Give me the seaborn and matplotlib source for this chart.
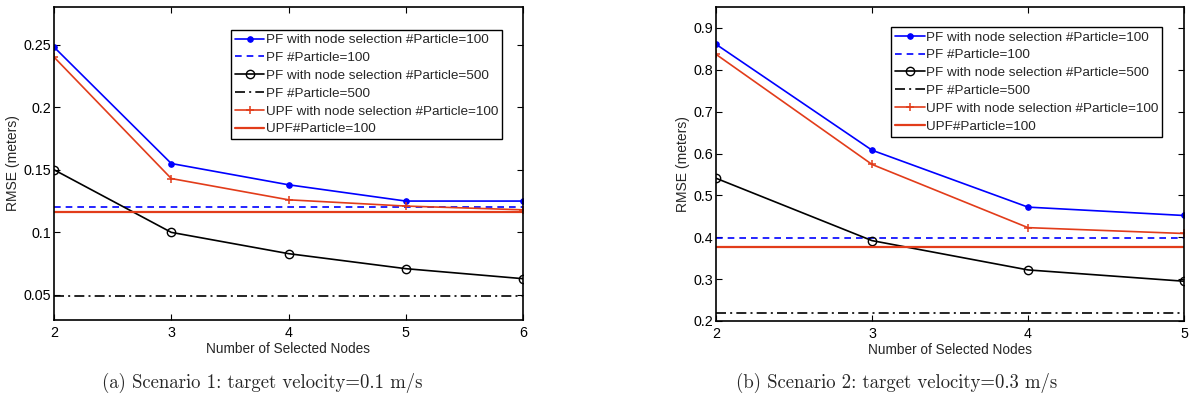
import numpy as np
import pandas as pd
import matplotlib
matplotlib.use("Agg")
import matplotlib.pyplot as plt
import seaborn as sns

# ---------------- data ----------------
nodes_a = [2, 3, 4, 5, 6]
pf_sel100_a = [0.248, 0.155, 0.138, 0.125, 0.125]
pf100_a = 0.120
pf_sel500_a = [0.150, 0.100, 0.083, 0.071, 0.063]
pf500_a = 0.049
upf_sel100_a = [0.240, 0.143, 0.126, 0.121, 0.118]
upf100_a = 0.1165

nodes_b = [2, 3, 4, 5]
pf_sel100_b = [0.861, 0.608, 0.472, 0.452]
pf100_b = 0.399
pf_sel500_b = [0.541, 0.392, 0.322, 0.295]
pf500_b = 0.220
upf_sel100_b = [0.837, 0.574, 0.423, 0.409]
upf100_b = 0.377

labels = ["PF with node selection #Particle=100",
          "PF #Particle=100",
          "PF with node selection #Particle=500",
          "PF #Particle=500",
          "UPF with node selection #Particle=100",
          "UPF#Particle=100"]

yticks_a = [0.05, 0.1, 0.15, 0.2, 0.25]
ytick_labels_a = ["0.05", "0.1", "0.15", "0.2", "0.25"]
yticks_b = [0.2, 0.3, 0.4, 0.5, 0.6, 0.7, 0.8, 0.9]
ytick_labels_b = ["0.2", "0.3", "0.4", "0.5", "0.6", "0.7", "0.8", "0.9"]

caption_a = "(a) Scenario 1: target velocity=0.1 m/s"
caption_b = "(b) Scenario 2: target velocity=0.3 m/s"
xlabel = "Number of Selected Nodes"
ylabel = "RMSE (meters)"

# ---------------- style ----------------
sns.set_theme(style="ticks")
plt.rcParams.update({
    "font.family": ["Liberation Sans", "DejaVu Sans"],
    "xtick.direction": "in",
    "ytick.direction": "in",
    "xtick.top": True,
    "ytick.right": True,
    "xtick.major.size": 4,
    "ytick.major.size": 4,
    "xtick.major.width": 0.8,
    "ytick.major.width": 0.8,
    "axes.linewidth": 1.2,
    "axes.edgecolor": "black",
})

BLUE = "#0000ff"
BLACK = "#000000"
RED = "#e23c1a"

fig = plt.figure(figsize=(11.9, 4.03), dpi=100)
ax_a = fig.add_axes([54 / 1190, 1 - 320 / 403, (523 - 54) / 1190, (320 - 7) / 403])
ax_b = fig.add_axes([716 / 1190, 1 - 321 / 403, (1184 - 716) / 1190, (321 - 7) / 403])


def draw(ax, nodes, sel100, base100, sel500, base500, usel100, ubase100):
    n = len(nodes)
    df = pd.DataFrame({
        "x": nodes,
        "sel100": sel100,
        "base100": np.full(n, base100),
        "sel500": sel500,
        "base500": np.full(n, base500),
        "usel100": usel100,
        "ubase100": np.full(n, ubase100),
    })
    lw = 1.2
    sns.lineplot(data=df, x="x", y="sel100", ax=ax, color=BLUE, lw=lw,
                 marker="o", markersize=4, markeredgecolor=BLUE,
                 markerfacecolor=BLUE, label=labels[0])
    sns.lineplot(data=df, x="x", y="base100", ax=ax, color=BLUE, lw=lw,
                 linestyle=(0, (4, 3)), label=labels[1])
    sns.lineplot(data=df, x="x", y="sel500", ax=ax, color=BLACK, lw=lw,
                 marker="o", markersize=6, markeredgecolor=BLACK,
                 markerfacecolor="none", markeredgewidth=1.0, label=labels[2])
    sns.lineplot(data=df, x="x", y="base500", ax=ax, color=BLACK, lw=lw,
                 linestyle=(0, (6, 2.5, 1.2, 2.5)), label=labels[3])
    sns.lineplot(data=df, x="x", y="usel100", ax=ax, color=RED, lw=lw,
                 marker="+", markersize=5.5, markeredgecolor=RED,
                 markeredgewidth=1.1, label=labels[4])
    sns.lineplot(data=df, x="x", y="ubase100", ax=ax, color=RED, lw=1.6,
                 label=labels[5])
    ax.set_xlim(nodes[0], nodes[-1])
    ax.set_xticks(nodes)
    ax.set_xticklabels([str(v) for v in nodes])
    ax.set_xlabel(xlabel, fontsize=9.8, labelpad=2)
    ax.set_ylabel(ylabel, fontsize=10, labelpad=3)
    ax.tick_params(labelsize=10.3, colors="black")
    ax.tick_params(axis="y", pad=1.8)
    ax.tick_params(axis="x", pad=4)
    for s in ax.spines.values():
        s.set_visible(True)
        s.set_color("black")


draw(ax_a, nodes_a, pf_sel100_a, pf100_a, pf_sel500_a, pf500_a, upf_sel100_a, upf100_a)
ax_a.set_ylim(0.03, 0.28)
ax_a.set_yticks(yticks_a)
ax_a.set_yticklabels(ytick_labels_a)

draw(ax_b, nodes_b, pf_sel100_b, pf100_b, pf_sel500_b, pf500_b, upf_sel100_b, upf100_b)
ax_b.set_ylim(0.2, 0.95)
ax_b.set_yticks(yticks_b)
ax_b.set_yticklabels(ytick_labels_b)

for ax, anchor in ((ax_a, (0.377, 0.927)), (ax_b, (0.374, 0.936))):
    leg = ax.legend(loc="upper left", bbox_to_anchor=anchor, fontsize=9.7,
                    frameon=True, fancybox=False, edgecolor="black",
                    framealpha=1, handlelength=2.2, handletextpad=0.1,
                    borderpad=0.3, labelspacing=0.4, borderaxespad=0)
    leg.get_frame().set_linewidth(1.0)

fig.text(262 / 1190, 1 - 383 / 403, caption_a, ha="center", va="center",
         fontsize=13.5, family=["cmr10", "DejaVu Serif"])
fig.text(897 / 1190, 1 - 383 / 403, caption_b, ha="center", va="center",
         fontsize=13.5, family=["cmr10", "DejaVu Serif"])

fig.savefig("out.png", dpi=100)
